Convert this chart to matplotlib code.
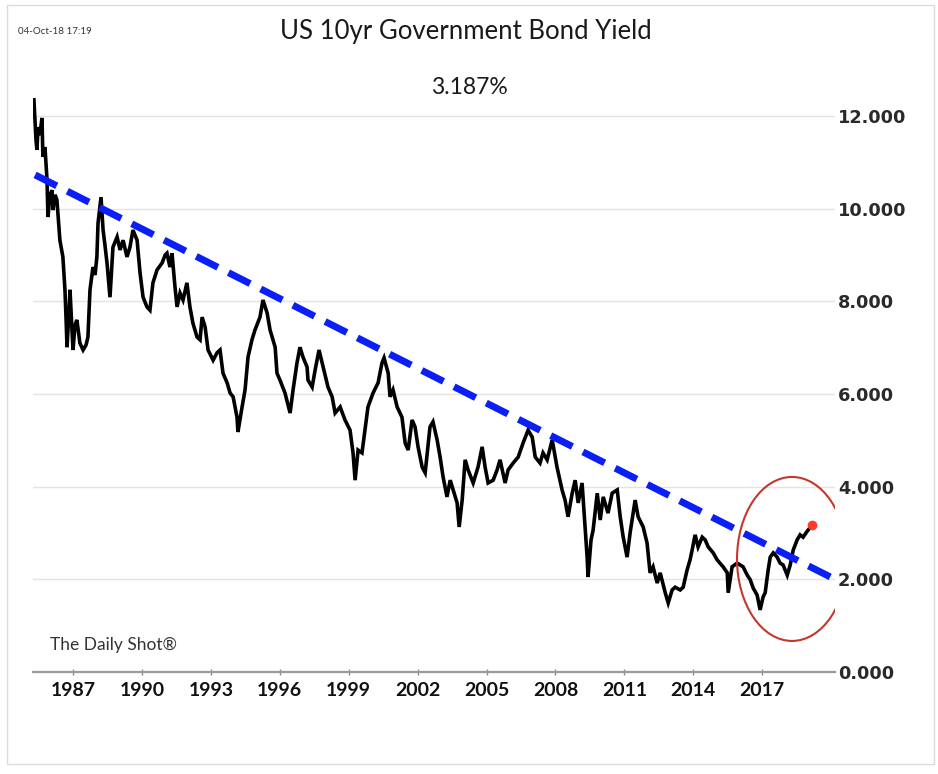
import matplotlib.pyplot as plt
from matplotlib.patches import Ellipse, Rectangle

# US 10yr yield (x in chart years, y in %)
years = [1985.30, 1985.39, 1985.43, 1985.48, 1985.56, 1985.65, 1985.69, 1985.78, 1985.87, 1985.91,
         1986.00, 1986.09, 1986.13, 1986.22, 1986.30, 1986.43, 1986.56, 1986.65, 1986.70, 1986.74,
         1986.83, 1986.87, 1986.96, 1987.00, 1987.09, 1987.17, 1987.30, 1987.44, 1987.57, 1987.65,
         1987.74, 1987.87, 1987.96, 1988.04, 1988.09, 1988.22, 1988.31, 1988.39, 1988.48, 1988.61,
         1988.74, 1988.92, 1989.05, 1989.18, 1989.35, 1989.48, 1989.61, 1989.79, 1989.92, 1990.05,
         1990.22, 1990.35, 1990.48, 1990.66, 1990.88, 1991.01, 1991.09, 1991.22, 1991.31, 1991.44,
         1991.53, 1991.66, 1991.79, 1991.96, 1992.09, 1992.22, 1992.40, 1992.53, 1992.62, 1992.75,
         1992.88, 1993.10, 1993.27, 1993.40, 1993.53, 1993.71, 1993.84, 1993.97, 1994.14, 1994.18,
         1994.36, 1994.49, 1994.62, 1994.79, 1994.92, 1995.14, 1995.27, 1995.45, 1995.58, 1995.80,
         1995.88, 1996.01, 1996.23, 1996.45, 1996.58, 1996.75, 1996.88, 1997.01, 1997.19, 1997.23,
         1997.41, 1997.54, 1997.71, 1997.89, 1998.10, 1998.28, 1998.41, 1998.63, 1998.84, 1999.06,
         1999.19, 1999.28, 1999.41, 1999.58, 1999.71, 1999.84, 2000.06, 2000.28, 2000.45, 2000.54,
         2000.72, 2000.80, 2000.93, 2001.11, 2001.32, 2001.46, 2001.59, 2001.76, 2001.89, 2002.02,
         2002.20, 2002.33, 2002.46, 2002.54, 2002.67, 2002.85, 2002.98, 2003.11, 2003.28, 2003.42,
         2003.55, 2003.72, 2003.81, 2003.94, 2004.07, 2004.20, 2004.42, 2004.63, 2004.81, 2004.94,
         2005.07, 2005.29, 2005.46, 2005.59, 2005.81, 2005.94, 2006.16, 2006.38, 2006.59, 2006.81,
         2006.99, 2007.12, 2007.33, 2007.46, 2007.64, 2007.86, 2008.07, 2008.29, 2008.42, 2008.55,
         2008.73, 2008.86, 2008.99, 2009.16, 2009.29, 2009.38, 2009.42, 2009.55, 2009.64, 2009.82,
         2009.95, 2010.08, 2010.29, 2010.47, 2010.69, 2010.82, 2010.95, 2011.12, 2011.25, 2011.47,
         2011.60, 2011.82, 2011.99, 2012.12, 2012.25, 2012.43, 2012.56, 2012.78, 2012.91, 2013.08,
         2013.21, 2013.43, 2013.56, 2013.73, 2013.86, 2013.95, 2014.08, 2014.21, 2014.39, 2014.52,
         2014.65, 2014.87, 2015.04, 2015.30, 2015.48, 2015.52, 2015.69, 2015.91, 2016.17, 2016.35,
         2016.48, 2016.61, 2016.78, 2016.91, 2017.04, 2017.13, 2017.26, 2017.35, 2017.48, 2017.65,
         2017.78, 2017.91, 2018.09, 2018.22, 2018.35, 2018.52, 2018.65, 2018.78, 2018.96, 2019.18]
yields = [12.35, 11.48, 11.27, 11.76, 11.59, 11.96, 11.12, 11.33, 10.62, 9.82,
          10.30, 10.40, 9.97, 10.30, 10.19, 9.32, 8.96, 8.25, 7.60, 7.01,
          7.81, 8.25, 7.38, 6.95, 7.49, 7.60, 7.10, 6.95, 7.06, 7.23,
          8.25, 8.74, 8.57, 8.96, 9.69, 10.25, 9.54, 9.22, 8.83, 8.09,
          9.17, 9.39, 9.11, 9.32, 8.96, 9.17, 9.54, 9.32, 8.61, 8.09,
          7.88, 7.81, 8.40, 8.68, 8.83, 9.00, 9.04, 8.74, 9.04, 8.31,
          7.88, 8.18, 8.03, 8.40, 7.88, 7.53, 7.23, 7.17, 7.66, 7.45,
          6.95, 6.73, 6.89, 6.95, 6.45, 6.24, 6.02, 5.94, 5.50, 5.18,
          5.72, 6.09, 6.80, 7.17, 7.38, 7.66, 8.03, 7.75, 7.38, 7.01,
          6.45, 6.30, 6.02, 5.59, 6.09, 6.67, 7.01, 6.80, 6.58, 6.30,
          6.15, 6.52, 6.95, 6.58, 6.15, 5.94, 5.59, 5.72, 5.44, 5.22,
          4.73, 4.14, 4.79, 4.73, 5.22, 5.72, 6.02, 6.24, 6.67, 6.78,
          6.45, 5.94, 6.09, 5.72, 5.50, 4.94, 4.79, 5.44, 5.29, 4.86,
          4.42, 4.30, 4.90, 5.29, 5.40, 5.01, 4.64, 4.21, 3.78, 4.14,
          3.93, 3.65, 3.13, 3.71, 4.58, 4.36, 4.08, 4.42, 4.86, 4.42,
          4.08, 4.14, 4.36, 4.58, 4.08, 4.36, 4.51, 4.64, 4.94, 5.22,
          5.07, 4.64, 4.51, 4.73, 4.58, 5.01, 4.42, 3.93, 3.71, 3.35,
          3.86, 4.14, 3.65, 4.08, 3.13, 2.48, 2.05, 2.85, 3.06, 3.86,
          3.28, 3.78, 3.43, 3.86, 3.93, 3.35, 2.91, 2.48, 3.00, 3.71,
          3.35, 3.13, 2.78, 2.14, 2.27, 1.92, 2.14, 1.71, 1.49, 1.77,
          1.83, 1.77, 1.83, 2.20, 2.42, 2.63, 2.96, 2.70, 2.91, 2.85,
          2.70, 2.57, 2.42, 2.27, 2.14, 1.71, 2.27, 2.35, 2.27, 2.09,
          1.99, 1.81, 1.66, 1.34, 1.62, 1.71, 2.20, 2.48, 2.57, 2.48,
          2.35, 2.31, 2.09, 2.31, 2.63, 2.85, 2.96, 2.91, 3.04, 3.17]

# hand drawn trend line and circle
trend_years = [1985.35, 2020.05]
trend_vals = [10.73, 2.03]
circle_center = (2018.30, 2.44)
circle_w, circle_h = 4.79, 3.54

xticks = [1987, 1990, 1993, 1996, 1999, 2002, 2005, 2008, 2011, 2014, 2017]
yticks = [0, 2, 4, 6, 8, 10, 12]

fig = plt.figure(figsize=(9.38, 7.74), dpi=100)
fig.patches.append(Rectangle((7 / 938, 10 / 774), 927 / 938, 759 / 774, transform=fig.transFigure,
                             fill=False, edgecolor='#dcdcdc', linewidth=1.0))
ax = fig.add_axes([0.0352, 0.1318, 0.855, 0.7452])

for y in yticks[1:]:
    ax.axhline(y, color='#e3e3e3', linewidth=1.0, zorder=0)

ax.plot(years, yields, color='black', linewidth=2.6, solid_joinstyle='miter', zorder=2)
ax.plot(trend_years, trend_vals, color='#0a1ef5', linewidth=5, linestyle=(0, (3.5, 1.7)),
        dash_capstyle='butt', zorder=3)
ax.add_patch(Ellipse(circle_center, circle_w, circle_h, fill=False, edgecolor='#c2382c',
                     linewidth=1.5, zorder=4))
ax.plot(years[-1], yields[-1], 'o', color='#ff3b2a', markersize=6, zorder=5)

ax.set_xlim(1985.26, 2020.17)
ax.set_ylim(0, 12.45)
for s in ['top', 'left', 'right']:
    ax.spines[s].set_visible(False)
ax.spines['bottom'].set_color('#9a9a9a')
ax.spines['bottom'].set_linewidth(1.6)

ax.set_xticks(xticks)
ax.set_xticklabels([str(t) for t in xticks], family='Lato', fontweight='bold', fontsize=14,
                   color='#111111')
ax.tick_params(axis='x', direction='inout', length=5, width=1, color='#8a8a8a', pad=5)

ax.yaxis.tick_right()
ax.set_yticks(yticks)
ax.set_yticklabels(['%.3f' % t for t in yticks], family='DejaVu Sans', fontweight='bold',
                   fontsize=12.8, color='#2a2a2a')
ax.tick_params(axis='y', length=0, pad=2)

fig.text(466 / 938, 1 - 31 / 774, 'US 10yr Government Bond Yield', family='Lato', fontsize=18.5,
         ha='center', va='center', color='#1a1a1a')
fig.text(469 / 938, 1 - 87 / 774, '3.187%', family='Lato', fontsize=16.5, ha='center',
         va='center', color='#1a1a1a')
fig.text(18 / 938, 1 - 31 / 774, '04-Oct-18 17:19', family='Lato', fontsize=7, ha='left',
         va='center', color='#333333')
ax.text(0.021, 0.046, 'The Daily Shot®', transform=ax.transAxes, family='Lato', fontsize=12.5,
        ha='left', va='center', color='#333333')

fig.savefig('out.png', dpi=100)
